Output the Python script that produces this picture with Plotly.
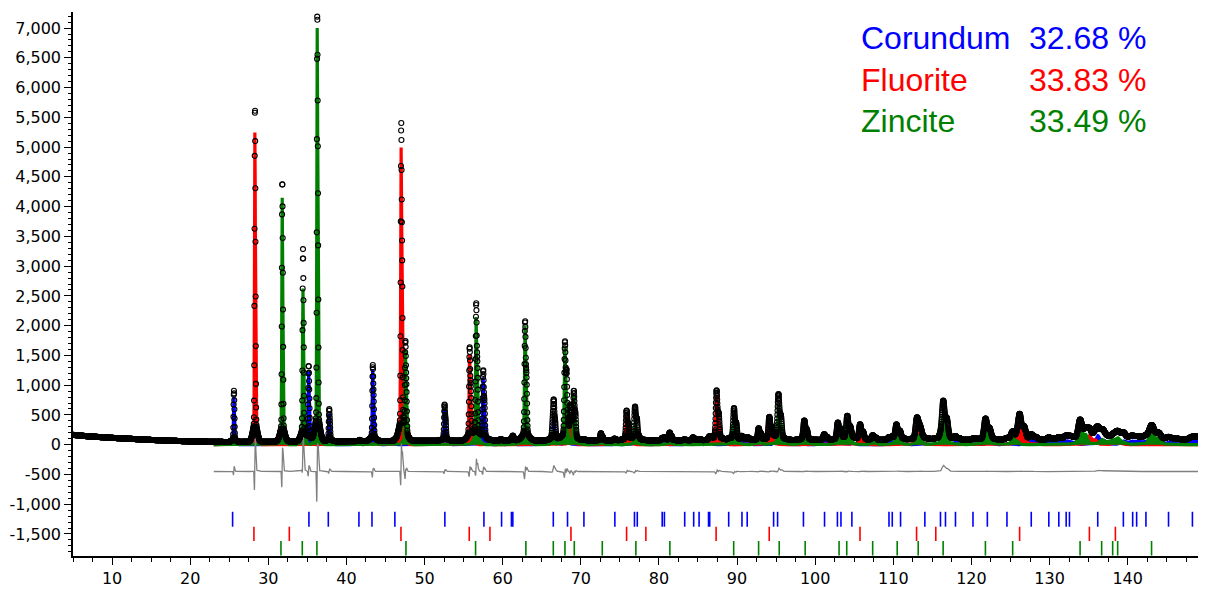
import numpy as np
import plotly.graph_objects as go

# ---------------- data ----------------
phase_names = ["Corundum", "Fluorite", "Zincite"]
phase_percent = ["32.68 %", "33.83 %", "33.49 %"]
phase_colors = ["#0000FF", "#FF0000", "#008000"]

# reflection positions (deg 2theta) and calculated peak heights (counts)
corundum_pos = [25.58, 35.15, 37.78, 41.68, 43.36, 46.18, 52.55, 57.50, 59.74, 61.12,
                61.30, 66.52, 68.21, 70.42, 74.30, 76.87, 77.22, 80.42, 80.70, 83.21,
                84.36, 85.14, 86.36, 86.50, 88.99, 90.60, 91.30, 94.70, 95.20, 98.45,
                101.15, 102.85, 103.30, 104.70, 109.45, 109.87, 110.93, 114.04, 116.04, 116.68,
                117.96, 120.20, 122.04, 124.55, 127.66, 129.91, 131.19, 132.13, 132.55, 136.17,
                139.45, 140.64, 141.15, 142.34, 145.23, 148.29, 149.15]
corundum_calc = [820, 1220, 520, 20, 1280, 15, 600, 1130, 25, 40,
                 60, 450, 350, 20, 30, 200, 80, 40, 30, 15,
                 50, 20, 20, 40, 20, 60, 50, 30, 100, 20,
                 100, 40, 30, 40, 40, 30, 30, 20, 60, 40,
                 50, 20, 30, 20, 80, 40, 40, 50, 30, 150,
                 60, 40, 30, 50, 40, 50, 40]
corundum_obs = [860, 1270, 540, 20, 1280, 15, 610, 1170, 25, 40,
                60, 540, 350, 20, 30, 200, 80, 40, 30, 15,
                50, 20, 20, 40, 20, 60, 50, 30, 100, 20,
                100, 40, 30, 40, 40, 30, 30, 20, 60, 40,
                50, 20, 30, 20, 80, 40, 40, 50, 30, 170,
                60, 40, 30, 50, 40, 50, 40]

fluorite_pos = [28.27, 32.76, 47.00, 55.76, 58.50, 68.67, 75.85, 78.15, 87.37, 94.12,
                105.74, 112.98, 115.44, 126.17, 135.10, 138.43]
fluorite_calc = [5250, 10, 5020, 1530, 10, 520, 500, 5, 840, 380,
                 260, 300, 5, 420, 160, 40]
fluorite_obs = [5630, 10, 5330, 1560, 10, 520, 500, 5, 840, 380,
                260, 300, 5, 420, 160, 40]

zincite_pos = [31.77, 34.42, 36.25, 47.54, 56.60, 62.86, 66.38, 67.96, 69.10, 72.56,
               76.95, 81.37, 89.60, 92.76, 95.30, 98.60, 102.90, 104.10, 107.36, 110.40,
               113.19, 116.38, 121.79, 125.28, 133.91, 136.67, 138.08, 138.72, 143.06]
zincite_calc = [4150, 2650, 7000, 1600, 2150, 2000, 250, 1650, 830, 120,
                400, 130, 560, 200, 650, 320, 250, 400, 80, 250,
                150, 520, 350, 120, 330, 80, 60, 80, 220]
zincite_obs = [4380, 3230, 7200, 1570, 2300, 2010, 250, 1640, 800, 120,
               400, 130, 540, 200, 690, 320, 250, 400, 80, 250,
               150, 620, 350, 120, 330, 80, 60, 80, 220]

# background of the observed pattern (control points)
bg_2theta = [5, 7, 10, 15, 20, 25, 30, 40, 60, 100, 150]
bg_counts = [165, 140, 115, 80, 55, 45, 50, 60, 70, 75, 80]

# reflection tick marks (2theta)
corundum_ticks = [25.43, 35.2, 37.68, 41.6, 43.27, 46.2, 52.6, 57.6, 59.86, 61.12, 61.3,
                  66.48, 68.3, 70.4, 74.36, 76.87, 77.23, 80.42, 80.7, 83.3, 84.45, 85.14,
                  86.35, 86.5, 88.93, 90.63, 91.3, 94.68, 95.19, 98.5, 101.2, 102.85, 103.3,
                  104.7, 109.45, 109.87, 110.93, 114.04, 116.04, 116.68, 117.96, 120.2,
                  122.04, 124.55, 127.66, 129.91, 131.19, 132.13, 132.55, 136.17, 139.45,
                  140.64, 141.15, 142.34, 145.23, 148.29, 149.15]
fluorite_ticks = [28.16, 32.69, 46.98, 55.72, 58.37, 68.74, 75.86, 78.33, 87.32, 94.12,
                  105.74, 112.98, 115.44, 126.17, 135.1, 138.43]
zincite_ticks = [31.62, 34.35, 36.22, 47.62, 56.53, 62.97, 66.48, 67.97, 69.17, 72.75,
                 77.05, 81.4, 89.57, 92.76, 95.4, 98.72, 103.06, 104.04, 107.36, 110.5,
                 113.19, 116.38, 121.79, 125.28, 133.91, 136.67, 138.08, 138.72, 143.06]
tick_rows = [(-1378, -1127), (-1618, -1378), (-1862, -1618)]

diff_offset = -450
obs_shift = 0.008          # small zero shift between observed and calculated
calc_start = 23.0

y_tickvals = [-1500, -1000, -500, 0, 500, 1000, 1500, 2000, 2500, 3000, 3500,
              4000, 4500, 5000, 5500, 6000, 6500, 7000]
y_ticktext = ["-1,500", "-1,000", "-500", "0", "500", "1,000", "1,500", "2,000",
              "2,500", "3,000", "3,500", "4,000", "4,500", "5,000", "5,500",
              "6,000", "6,500", "7,000"]
x_tickvals = [10, 20, 30, 40, 50, 60, 70, 80, 90, 100, 110, 120, 130, 140]

# ---------------- profile model (pseudo-Voigt-like, Cu Ka1/Ka2) ----------------
L1, L2 = 1.54056, 1.54439


def fwhm(tt):
    t = np.tan(np.radians(tt / 2))
    return np.sqrt(0.055 * t * t + 0.0075)


def ka2(tt):
    return 2 * np.degrees(np.arcsin(np.sin(np.radians(tt / 2)) * L2 / L1))


def shape(x, p):
    w = fwhm(p)
    out = np.zeros_like(x)
    for c, r in ((p, 1.0), (ka2(p), 0.5)):
        d = (x - c) / w
        out += r * (0.955 * np.exp(-4 * np.log(2) * d * d)
                    + 0.045 * np.exp(-4 * np.log(2) * (d / 6) ** 2))
    return out


def phase_profile(x, pos, hts, shift=0.0):
    y = np.zeros_like(x)
    for p, h in zip(pos, hts):
        fine = np.linspace(p - 0.5, p + 1.5, 2001)
        m = shape(fine, p).max()
        y += h * shape(x, p + shift) / m
    return y


x = np.arange(5.0, 150.0 + 1e-9, 0.02)
bg = np.interp(x, bg_2theta, bg_counts)
calc_mask = x >= calc_start
xc = x[calc_mask]

calc_sets = [(corundum_pos, corundum_calc), (fluorite_pos, fluorite_calc), (zincite_pos, zincite_calc)]
obs_sets = [(corundum_pos, corundum_obs), (fluorite_pos, fluorite_obs), (zincite_pos, zincite_obs)]

calc_phase = [phase_profile(xc, p, h) for p, h in calc_sets]
obs_total = bg + sum(phase_profile(x, p, h, obs_shift) for p, h in obs_sets)
calc_total = bg[calc_mask] + sum(calc_phase)
diff = obs_total[calc_mask] - calc_total + diff_offset

# ---------------- figure ----------------
fig = go.Figure()

for name, col, yv in zip(phase_names, phase_colors, calc_phase):
    fig.add_trace(go.Scatter(x=xc, y=yv, mode="lines", name=name,
                             line=dict(color=col, width=3.2), fill="tozeroy",
                             fillcolor=col, hoverinfo="skip"))

fig.add_trace(go.Scatter(x=xc, y=diff, mode="lines", name="Difference",
                         line=dict(color="#808080", width=1.3), hoverinfo="skip"))

fig.add_trace(go.Scatter(x=x, y=obs_total, mode="markers", name="Observed",
                         marker=dict(symbol="circle", size=5, color="rgba(0,0,0,0)",
                                     line=dict(color="black", width=1.1)),
                         hoverinfo="skip"))

for ticks, (y0, y1), col in zip([corundum_ticks, fluorite_ticks, zincite_ticks], tick_rows, phase_colors):
    tx, ty = [], []
    for t in ticks:
        tx += [t, t, None]
        ty += [y0, y1, None]
    fig.add_trace(go.Scatter(x=tx, y=ty, mode="lines", line=dict(color=col, width=1.6),
                             hoverinfo="skip", showlegend=False))

# page body has an 8px margin: figure coordinates = window coordinates - 8
OFF = 8
L, R, T, B = 71 - OFF, 1205 - OFF, 12 - OFF, 558 - OFF
W, H = 1206 - OFF, 589 - OFF


def px2paper(px, py):
    return (px - OFF - L) / (R - L), (B - (py - OFF)) / (B - T)


for i, (name, pct, col) in enumerate(zip(phase_names, phase_percent, phase_colors)):
    py = [38, 80, 121][i]
    ax, ay = px2paper(858, py)
    bx, _ = px2paper(1027, py)
    for xx, txt in ((ax, name), (bx, pct)):
        fig.add_annotation(x=xx, y=ay, xref="paper", yref="paper", text=txt,
                           showarrow=False, xanchor="left", yanchor="middle",
                           font=dict(family="Liberation Sans, Arial", size=32, color=col))

fig.update_layout(
    width=W, height=H,
    margin=dict(l=L, r=W - R, t=T, b=H - B),
    paper_bgcolor="white", plot_bgcolor="white",
    showlegend=False,
    font=dict(family="DejaVu Sans", size=16, color="black"),
)
fig.update_xaxes(range=[5, 149.9], showgrid=False, zeroline=False,
                 showline=True, linecolor="black", linewidth=1.5,
                 ticks="outside", ticklen=7, tickwidth=1.3, tickcolor="black",
                 tickvals=x_tickvals, ticktext=[str(v) for v in x_tickvals],
                 minor=dict(dtick=2.5, ticks="outside", ticklen=4, tickcolor="black", tickwidth=1),
                 tickfont=dict(family="DejaVu Sans", size=16, color="black"))
fig.update_yaxes(range=[-1870, 7270], showgrid=False, zeroline=False,
                 showline=True, linecolor="black", linewidth=1.5,
                 ticks="outside", ticklen=7, tickwidth=1.3, tickcolor="black",
                 tickvals=y_tickvals, ticktext=y_ticktext,
                 minor=dict(dtick=100, ticks="outside", ticklen=3, tickcolor="black", tickwidth=1),
                 tickfont=dict(family="DejaVu Sans", size=16, color="black"))

fig.write_html("out.html")
